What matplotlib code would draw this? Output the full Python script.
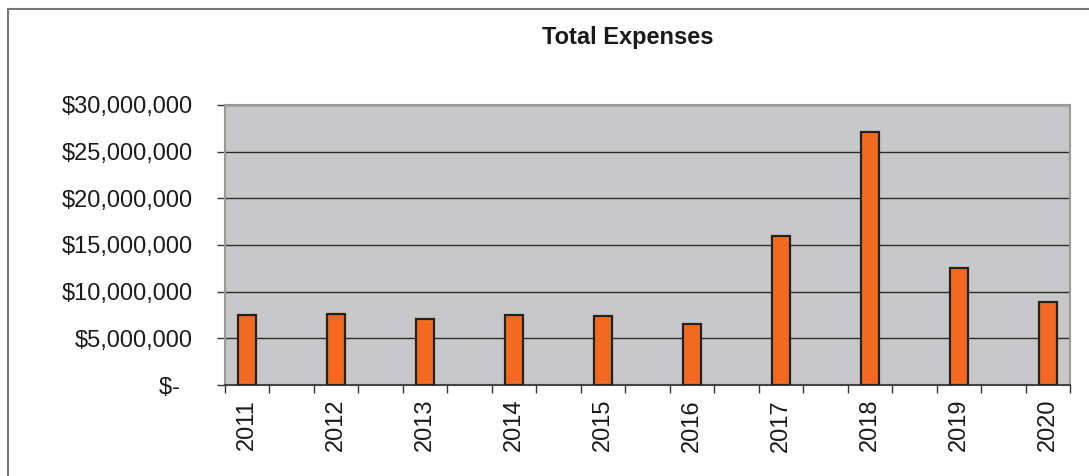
import numpy as np
import matplotlib.pyplot as plt
from matplotlib.lines import Line2D
from matplotlib.ticker import FuncFormatter

plt.rcParams['font.family'] = ['Liberation Sans', 'DejaVu Sans']

anos = ['2011', '2012', '2013', '2014', '2015', '2016', '2017', '2018', '2019', '2020']
despesas = [7500000, 7570000, 7070000, 7460000, 7390000, 6500000,
            15960000, 27070000, 12540000, 8860000]

fig = plt.figure(figsize=(10.89, 4.76), dpi=100)
ax = fig.add_axes([225 / 1089, 91 / 476, 845 / 1089, 280 / 476])

# categorias com espaços vazios entre os anos (como no Excel original)
pos = np.arange(len(anos)) * 2
ax.set_facecolor('#c8c8ca')
ax.bar(pos, despesas, width=0.41, color='#f26a21', edgecolor='#222222',
       linewidth=1.6, zorder=3)

ax.set_xlim(-0.5, 2 * len(anos) - 1.5)
ax.set_ylim(0, 30000000)
ax.set_yticks(np.arange(0, 30000001, 5000000))
ax.yaxis.set_major_formatter(FuncFormatter(
    lambda v, p: '$-  ' if v == 0 else f'${v:,.0f}'))
ax.grid(axis='y', color='#2a2a2a', linewidth=1.0, zorder=1)

ax.set_xticks(pos)
ax.set_xticklabels(anos, rotation=90)
ax.set_xticks(np.arange(-0.5, 2 * len(anos) - 1, 1.0), minor=True)
ax.tick_params(axis='x', which='major', length=0, pad=10, labelsize=17,
               labelcolor='#1a1a1a')
ax.tick_params(axis='x', which='minor', length=6, width=1, color='#333333')
ax.tick_params(axis='y', length=6, width=1, color='#333333', pad=17, labelsize=17,
               labelcolor='#1a1a1a')

for s in ['left', 'top', 'right']:
    ax.spines[s].set_color('#999999')
    ax.spines[s].set_linewidth(1.5)
ax.spines['bottom'].set_color('#444444')
ax.spines['bottom'].set_linewidth(1.5)

fig.text(628 / 1089, 1 - 38 / 476, 'Total Expenses', ha='center', va='center',
         fontsize=17, fontweight='bold', color='#1a1a1a')

# moldura do gráfico (só topo e esquerda visíveis)
fig.add_artist(Line2D([7.5 / 1089, 1], [1 - 9 / 476, 1 - 9 / 476],
                      transform=fig.transFigure, color='#777777', linewidth=1.5))
fig.add_artist(Line2D([7.5 / 1089, 7.5 / 1089], [0, 1 - 9 / 476],
                      transform=fig.transFigure, color='#777777', linewidth=1.5))

fig.savefig('out.png', dpi=100)
